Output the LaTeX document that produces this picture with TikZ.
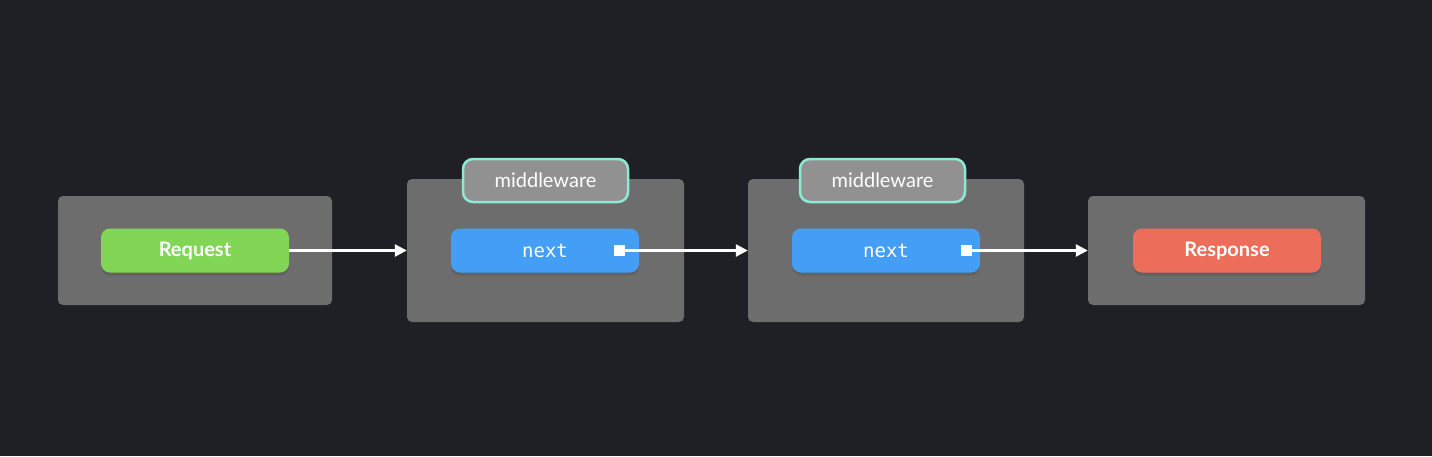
\documentclass[tikz,border=0pt]{standalone}
\usepackage{fontspec}
\setmainfont{Lato}
\newfontfamily\codefont{DejaVu Sans Mono}
\usetikzlibrary{arrows.meta,shadows}
\definecolor{bg}{HTML}{1F2025}
\definecolor{boxgray}{HTML}{6D6D6D}
\definecolor{reqgreen}{HTML}{82D655}
\definecolor{resred}{HTML}{EC6E5A}
\definecolor{nextblue}{HTML}{459EF5}
\definecolor{mwfill}{HTML}{919191}
\definecolor{mwborder}{HTML}{8EE8D4}
\tikzset{
  outerbox/.style={fill=boxgray, rounded corners=5pt, draw=none, inner sep=0pt},
  pill/.style={rounded corners=9pt, draw=none, text=white, minimum width=188pt, minimum height=44pt, inner sep=0pt,
     drop shadow={shadow xshift=0pt, shadow yshift=-3pt, opacity=0.10, fill=black}},
  mwlabel/.style={fill=mwfill, draw=mwborder, line width=2.5pt, rounded corners=10pt, text=white,
     minimum width=165pt, minimum height=43pt, inner sep=0pt, font=\fontsize{20}{23}\selectfont},
  flow/.style={draw=white, line width=2.5pt, -{Triangle[length=12pt,width=12pt]}},
  sq/.style={fill=white, minimum size=11pt, inner sep=0pt, draw=none},
  boldlbl/.style={font=\bfseries\fontsize{20}{23}\selectfont},
  codelbl/.style={font=\codefont\fontsize{19}{22}\selectfont}
}
\begin{document}
\begin{tikzpicture}[x=1pt,y=-1pt]
\fill[bg] (0,0) rectangle (1432,456);
\useasboundingbox (0,0) rectangle (1432,456);
% outer boxes
\node[outerbox, minimum width=274pt, minimum height=109pt] (box1) at (195,250.5) {};
\node[outerbox, minimum width=277pt, minimum height=143pt] (box2) at (545.5,250.5) {};
\node[outerbox, minimum width=276pt, minimum height=143pt] (box3) at (886,250.5) {};
\node[outerbox, minimum width=277pt, minimum height=109pt] (box4) at (1226.5,250.5) {};
% inner pills
\node[pill, fill=reqgreen, boldlbl] (req) at (195,250.5) {Request};
\node[pill, fill=nextblue, codelbl] (next1) at (545,250.5) {next};
\node[pill, fill=nextblue, codelbl] (next2) at (886,250.5) {next};
\node[pill, fill=resred, boldlbl] (res) at (1227,250.5) {Response};
% middleware labels
\node[mwlabel] (mw1) at (545.5,180.5) {middleware};
\node[mwlabel] (mw2) at (882.5,180.5) {middleware};
% squares
\node[sq] (s1) at (619,250.5) {};
\node[sq] (s2) at (966,250.5) {};
% arrows
\draw[flow] (req.east) -- (req.east -| box2.west);
\draw[flow] (s1.center) -- (s1.center -| box3.west);
\draw[flow] (s2.center) -- (s2.center -| box4.west);
\end{tikzpicture}
\end{document}
